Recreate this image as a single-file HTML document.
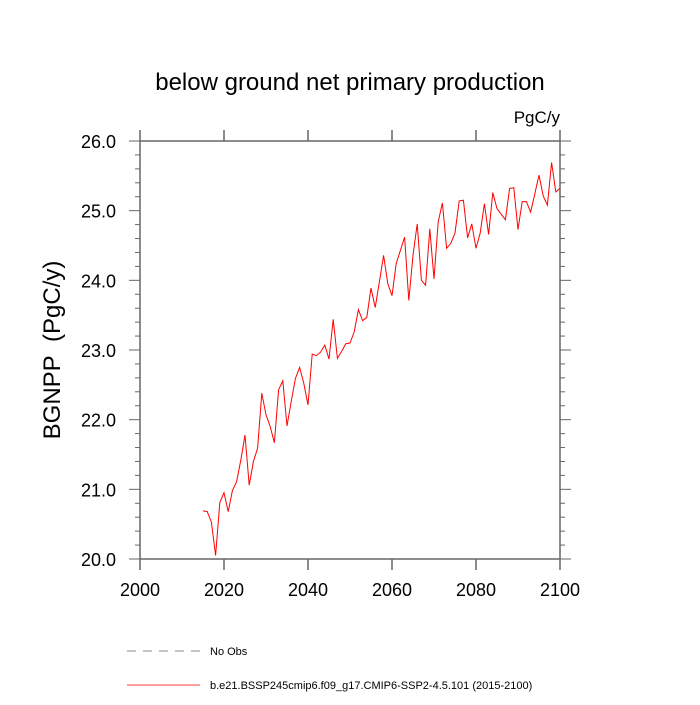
<!DOCTYPE html>
<html><head><meta charset="utf-8"><style>
body{margin:0;background:#fff;}
svg text{font-family:"Liberation Sans",sans-serif;fill:#000;}
</style></head><body>
<svg id="chart" width="700" height="700">
<text x="350" y="90" font-size="24" text-anchor="middle">below ground net primary production</text>
<text x="560" y="123" font-size="17" text-anchor="end">PgC/y</text>
<text transform="translate(60,350) rotate(-90)" font-size="24" text-anchor="middle">BGNPP&#160;&#160;(PgC/y)</text>
<g id="axes"></g>
<polyline id="series" fill="none" stroke="#ff0000" stroke-width="1"/>
<line x1="127" y1="651" x2="200" y2="651" stroke="#888" stroke-dasharray="9,7"/>
<text x="210" y="655" font-size="11">No Obs</text>
<line x1="127" y1="685" x2="200" y2="685" stroke="#ff0000" stroke-width="0.8"/>
<text x="210" y="689" font-size="11">b.e21.BSSP245cmip6.f09_g17.CMIP6-SSP2-4.5.101 (2015-2100)</text>
</svg>
<script>
const years=[];for(let y=2015;y<=2100;y++)years.push(y);
const values=[20.69,20.68,20.53,20.05,20.81,20.95,20.68,20.98,21.11,21.42,21.78,21.06,21.40,21.59,22.38,22.07,21.90,21.67,22.43,22.56,21.91,22.26,22.59,22.75,22.52,22.21,22.94,22.92,22.97,23.07,22.87,23.44,22.88,22.98,23.09,23.10,23.26,23.58,23.42,23.47,23.89,23.61,23.98,24.36,23.95,23.78,24.24,24.43,24.62,23.71,24.36,24.81,24.00,23.93,24.74,24.02,24.84,25.11,24.46,24.53,24.68,25.14,25.15,24.61,24.81,24.46,24.68,25.10,24.66,25.26,25.03,24.95,24.87,25.32,25.33,24.73,25.13,25.13,24.98,25.24,25.51,25.21,25.08,25.69,25.27,25.32];
const xTicks=[2000,2020,2040,2060,2080,2100];
const yTicks=[20.0,21.0,22.0,23.0,24.0,25.0,26.0];
const L=140,R=560,T=141,B=559;
const xs=v=>L+(v-2000)/100*(R-L);
const ys=v=>B-(v-20)/6*(B-T);
const NS='http://www.w3.org/2000/svg';
const ax=document.getElementById('axes');
function ln(x1,y1,x2,y2,w,name){const l=document.createElementNS(NS,'line');
l.setAttribute('x1',x1);l.setAttribute('y1',y1);l.setAttribute('x2',x2);l.setAttribute('y2',y2);
l.setAttribute('stroke','#666');l.setAttribute('stroke-width',w);


ax.appendChild(l);}
function tx(x,y,s,anchor,name){const t=document.createElementNS(NS,'text');
t.setAttribute('x',x);t.setAttribute('y',y);t.setAttribute('font-size','18');t.setAttribute('text-anchor',anchor);t.textContent=s;


ax.appendChild(t);}
ln(L,T,R,T,1.5,'plot-frame-top');ln(L,B,R,B,1.5,'plot-frame-bottom');
ln(L,T,L,B,1.5,'plot-frame-left');ln(R,T,R,B,1.5,'plot-frame-right');
xTicks.forEach(v=>{const x=xs(v);ln(x,B,x,B+11,1.5,'x-tick');ln(x,T,x,T-11,1.5,'x-tick-top');tx(x,B+37,String(v),'middle','x-tick-label');});
for(let v=20;v<=26.001;v+=0.2){const y=ys(v);const maj=Math.abs(v-Math.round(v))<0.01;const len=maj?11:5;
ln(L,y,L-len,y,1,'y-tick');ln(R,y,R+len,y,1,'y-tick-right');}
yTicks.forEach(v=>{tx(L-24,ys(v)+7,v.toFixed(1),'end','y-tick-label');});
document.getElementById('series').setAttribute('points',years.map((y,i)=>xs(y).toFixed(1)+','+ys(values[i]).toFixed(1)).join(' '));
</script>
</body></html>
